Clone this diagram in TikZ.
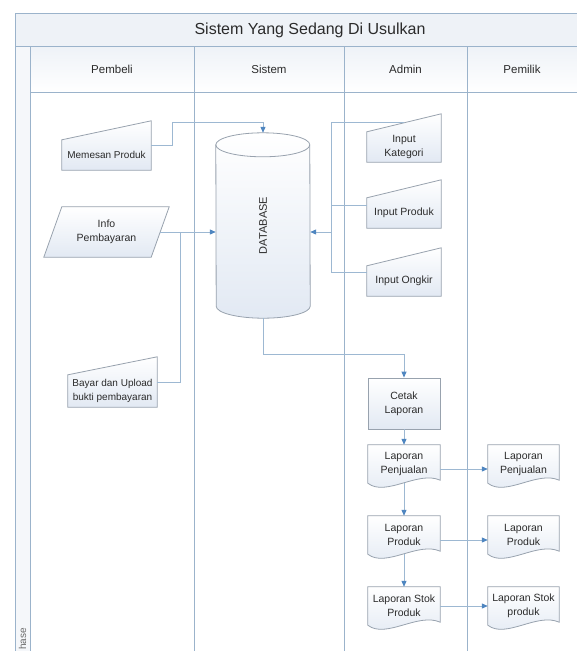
\documentclass[tikz,border=0pt]{standalone}
\usepackage{fontspec}
\setmainfont{Liberation Sans}
\usetikzlibrary{shapes.geometric,arrows.meta,calc,backgrounds}
\definecolor{frameline}{HTML}{9BB3CB}
\definecolor{connline}{HTML}{9DB8D2}
\definecolor{tipblue}{HTML}{4F86C0}
\definecolor{shapeline}{HTML}{98A2AE}
\definecolor{shapefill}{HTML}{E2E9F3}
\definecolor{headfill}{HTML}{EEF2F7}
\definecolor{txt}{HTML}{2B2B2B}
\pgfdeclarelayer{framelayer}
\pgfdeclarelayer{shapelayer}
\pgfsetlayers{framelayer,shapelayer,main}
\tikzset{
  lbl/.style={inner sep=0pt, align=center, text=txt, font=\fontsize{10.5}{14}\selectfont},
  smalllbl/.style={lbl, font=\fontsize{10}{13.5}\selectfont},
  headlbl/.style={inner sep=0pt, text=txt, font=\fontsize{11.5}{14}\selectfont},
  shp/.style={draw=shapeline, line width=0.8pt, top color=white, bottom color=shapefill},
  frm/.style={draw=frameline, line width=1pt},
  conn/.style={draw=connline, line width=1pt},
  arr/.style={conn, -{Triangle[length=6pt,width=5pt,color=tipblue]}},
}
\newcommand\maninshape[2]{%
  \begin{pgfonlayer}{shapelayer}
    \path[shp] (#1.south west) -- (#1.north west) -- ($(#1.north east)+(0,-#2)$) -- (#1.south east) -- cycle;
  \end{pgfonlayer}}
\newcommand\docshape[1]{%
  \begin{pgfonlayer}{shapelayer}
    \path[shp] (#1.south west) -- (#1.north west) -- (#1.north east) -- ($(#1.south east)+(0,-3)$)
      .. controls ($(#1.south east)+(-22,-13)$) and ($(#1.south west)+(18,14)$) .. (#1.south west) -- cycle;
  \end{pgfonlayer}}
\begin{document}
\begin{tikzpicture}[x=1pt,y=-1pt]
\useasboundingbox (0,0) rectangle (577,651);
% ---- swimlane frame ----
\begin{pgfonlayer}{framelayer}
  \fill[headfill] (15,13) rectangle (600,46);
  \shade[top color=headfill, bottom color=white] (30,46) rectangle (600,92);
  \fill[headfill!60] (15,46) rectangle (30,660);
  \draw[frm] (15,660) -- (15,13) -- (600,13);
  \draw[frm] (15,46) -- (600,46);
  \draw[frm] (30,46) -- (30,660);
  \draw[frm] (30,92) -- (600,92);
  \draw[frm] (194,46) -- (194,660);
  \draw[frm] (344,46) -- (344,660);
  \draw[frm] (467,46) -- (467,660);
\end{pgfonlayer}
\node[inner sep=0pt, text=txt, font=\fontsize{16}{19}\selectfont] (title) at (310,30) {Sistem Yang Sedang Di Usulkan};
\node[headlbl] (hpembeli) at (112,69) {Pembeli};
\node[headlbl] (hsistem) at (269,69) {Sistem};
\node[headlbl] (hadmin) at (405.5,69) {Admin};
\node[headlbl] (hpemilik) at (522,69) {Pemilik};
\node[inner sep=0pt, text=txt!70, rotate=90, anchor=west, font=\fontsize{10}{12}\selectfont] (phase) at (22.5,650) {hase};
% ---- Pembeli ----
\node[smalllbl, minimum width=89, minimum height=30] (mp) at (106.5,155) {Memesan Produk};
\maninshape{mp}{19}
\node[lbl, minimum width=107, minimum height=50] (ip) at (106.5,232) {Info\\Pembayaran};
\begin{pgfonlayer}{shapelayer}
  \path[shp] ($(ip.south west)+(-9,0)$) -- ($(ip.north west)+(9,0)$) -- ($(ip.north east)+(9,0)$) -- ($(ip.south east)+(-9,0)$) -- cycle;
\end{pgfonlayer}
\node[smalllbl, minimum width=89, minimum height=32] (bu) at (112.5,391) {Bayar dan Upload\\bukti pembayaran};
\maninshape{bu}{18}
% ---- Sistem: database cylinder ----
\node[inner sep=0pt, minimum width=94, minimum height=185, text=txt, font=\fontsize{11}{13}\selectfont]
  (db) at (263,225.5) {\rotatebox{90}{DATABASE}};
\begin{pgfonlayer}{shapelayer}
  \path[shp] ($(db.north west)+(0,12)$) arc[start angle=180, end angle=360, x radius=47, y radius=12]
     -- ($(db.south east)+(0,-12)$) arc[start angle=0, end angle=180, x radius=47, y radius=12] -- cycle;
  \draw[draw=shapeline, line width=0.8pt] ($(db.north west)+(0,12)$) arc[start angle=180, end angle=0, x radius=47, y radius=12];
\end{pgfonlayer}
% ---- Admin ----
\node[lbl, minimum width=74, minimum height=30] (ik) at (404,147) {Input\\Kategori};
\maninshape{ik}{18}
\node[lbl, minimum width=74, minimum height=30] (ipd) at (404,213) {Input Produk};
\maninshape{ipd}{18}
\node[lbl, minimum width=74, minimum height=30] (io) at (404,281) {Input Ongkir};
\maninshape{io}{18}
\node[lbl, shp, minimum width=72, minimum height=51] (cl) at (404,403.5) {Cetak\\Laporan};
\node[lbl, minimum width=72, minimum height=38] (lp1) at (404,464) {Laporan\\Penjualan};
\docshape{lp1}
\node[lbl, minimum width=72, minimum height=38] (ld1) at (404,535) {Laporan\\Produk};
\docshape{ld1}
\node[lbl, minimum width=72, minimum height=38] (ls1) at (404,606) {Laporan Stok\\Produk};
\docshape{ls1}
% ---- Pemilik ----
\node[lbl, minimum width=71, minimum height=38] (lp2) at (523.5,464) {Laporan\\Penjualan};
\docshape{lp2}
\node[lbl, minimum width=71, minimum height=38] (ld2) at (523.5,535) {Laporan\\Produk};
\docshape{ld2}
\node[lbl, minimum width=71, minimum height=38] (ls2) at (523.5,606) {Laporan Stok\\produk};
\docshape{ls2}
% ---- connectors ----
\coordinate (adminbus) at ($(io.west)+(-35,0)$);
\draw[arr] ($(mp.east)+(0,-10)$) -- ++(21,0) |- ($(db.north)+(0,-10)$) -- (db.north);
\draw[arr] (ip.east) -- (ip.east -| db.west);
\draw[conn] ($(bu.east)+(0,-9)$) -| ($(ip.east)+(20,0)$);
\draw[conn] ($(ik.north)+(0,-9)$) -| ($(io.west)+(-35,-9)$) -- ($(io.west)+(0,-9)$);
\draw[conn] ($(ipd.west)+(0,-8)$) -- ++(-35,0);
\draw[arr] (ip.east -| adminbus) -- (ip.east -| db.east);
\draw[arr] (db.south) |- ($(cl.north)+(0,-23)$) -- (cl.north);
\draw[arr] (cl.south) -- (lp1.north);
\draw[arr] (lp1.south) -- (ld1.north);
\draw[arr] (ld1.south) -- (ls1.north);
\draw[arr] ($(lp1.east)+(0,5)$) -- ($(lp2.west)+(0,5)$);
\draw[arr] ($(ld1.east)+(0,5)$) -- ($(ld2.west)+(0,5)$);
\draw[arr] (ls1.east) -- (ls2.west);
\end{tikzpicture}
\end{document}
